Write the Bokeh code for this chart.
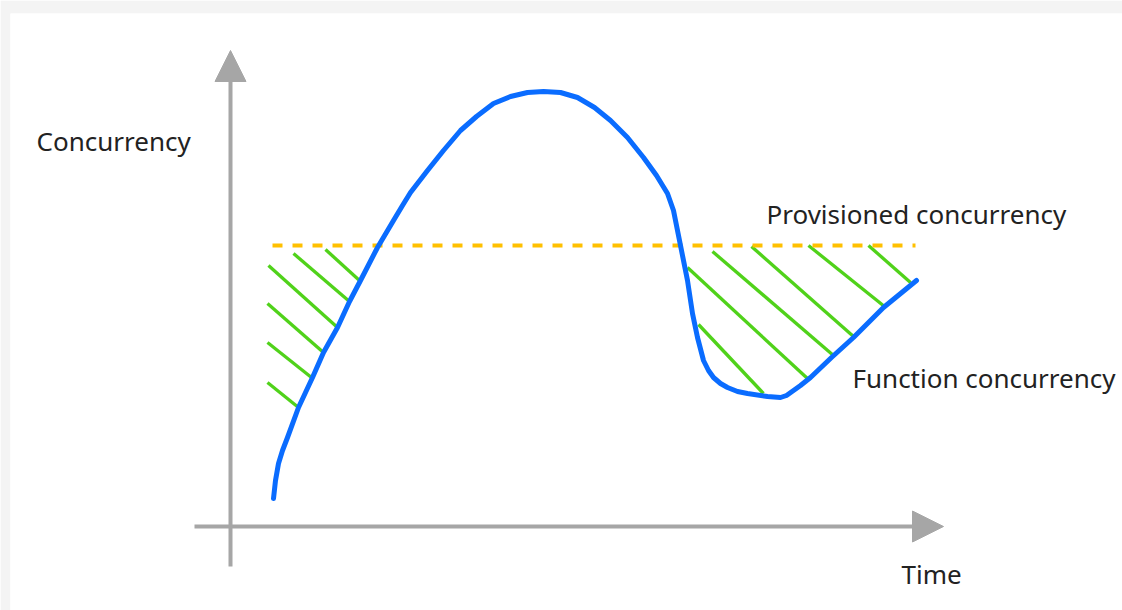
from bokeh.plotting import figure
from bokeh.models import Range1d, Arrow, NormalHead, ColumnDataSource
from bokeh.core.properties import value
from bokeh.embed import file_html
from bokeh.resources import INLINE

# Function concurrency curve (time, concurrency) in diagram units
curve_t = [43, 45, 48, 52, 57, 68, 82, 93, 107, 119, 130, 147, 163, 172, 180, 197, 213, 230, 246,
           263, 280, 297, 313, 330, 347, 364, 380, 397, 413, 426, 437, 443, 447, 451, 454, 457,
           462, 467, 473, 478, 483, 490, 497, 507, 517, 537, 550, 556, 563, 570, 580, 601, 623,
           653, 686]
curve_c = [28, 46, 63, 76, 89, 119, 149, 174, 199, 225, 246, 279, 306, 321, 334, 356, 376, 396, 410,
           423, 430, 434, 435, 434, 429, 419, 406, 389, 369, 351, 333, 316, 296, 276, 261, 246,
           213, 189, 166, 156, 149, 143, 139, 135, 133, 130, 129, 131, 136, 141, 149, 169, 189,
           219, 246]

# Provisioned concurrency level
prov_level = 281
prov_t = [42, 685]

# Hatch segments (gap between provisioned and function concurrency)
hatch_t0 = [38, 63, 95, 37, 37, 37, 457, 482, 521, 578, 638, 468]
hatch_c0 = [261, 273, 277, 223, 184, 144, 259, 275, 280, 281, 281, 202]
hatch_t1 = [107, 119, 129, 93, 81, 68, 577, 603, 623, 654, 680, 533]
hatch_c1 = [199, 225, 246, 174, 149, 119, 148, 171, 190, 220, 244, 133]

# Axes extents
y_axis_bottom, y_axis_top = -40, 476
x_axis_left, x_axis_right = -36, 713

# Labels
label_text = ["Concurrency", "Provisioned concurrency", "Function concurrency", "Time"]
label_t = [-194, 536, 622, 671]
label_c = [386, 313, 149, -47]

AXIS = "#a6a6a6"
BLUE = "#0a6cff"
GREEN = "#50d21a"
ORANGE = "#ffc000"

p = figure(width=1122, height=610, x_range=Range1d(-220, 892), y_range=Range1d(-84, 513),
           output_backend="svg", toolbar_location=None,
           x_axis_location=None, y_axis_location=None,
           min_border_left=10, min_border_top=13, min_border_right=0, min_border_bottom=0)
p.grid.visible = False
p.outline_line_color = None
p.border_fill_color = "#f4f4f4"
p.background_fill_color = "white"

# axes with arrows
p.add_layout(Arrow(end=NormalHead(size=31, fill_color=AXIS, line_color=AXIS, line_width=1),
                   x_start=0, y_start=y_axis_bottom, x_end=0, y_end=y_axis_top,
                   line_color=AXIS, line_width=4))
p.add_layout(Arrow(end=NormalHead(size=31, fill_color=AXIS, line_color=AXIS, line_width=1),
                   x_start=x_axis_left, y_start=0, x_end=x_axis_right, y_end=0,
                   line_color=AXIS, line_width=4))

# hatch
p.segment(x0=hatch_t0, y0=hatch_c0, x1=hatch_t1, y1=hatch_c1, line_color=GREEN, line_width=3.3)

# provisioned concurrency dashed line
p.line(x=prov_t, y=[prov_level] * len(prov_t), line_color=ORANGE, line_width=4, line_dash="10 10")

# function concurrency
p.line(x=curve_t, y=curve_c, line_color=BLUE, line_width=5, line_join="round", line_cap="round")

src = ColumnDataSource(dict(x=label_t, y=label_c, text=label_text))
p.text(x="x", y="y", text="text", source=src, text_font=value("Noto Sans"),
       text_font_size="26px", text_color="#222222", text_align="left", text_baseline="alphabetic")

open("out.html", "w").write(file_html(p, INLINE))
